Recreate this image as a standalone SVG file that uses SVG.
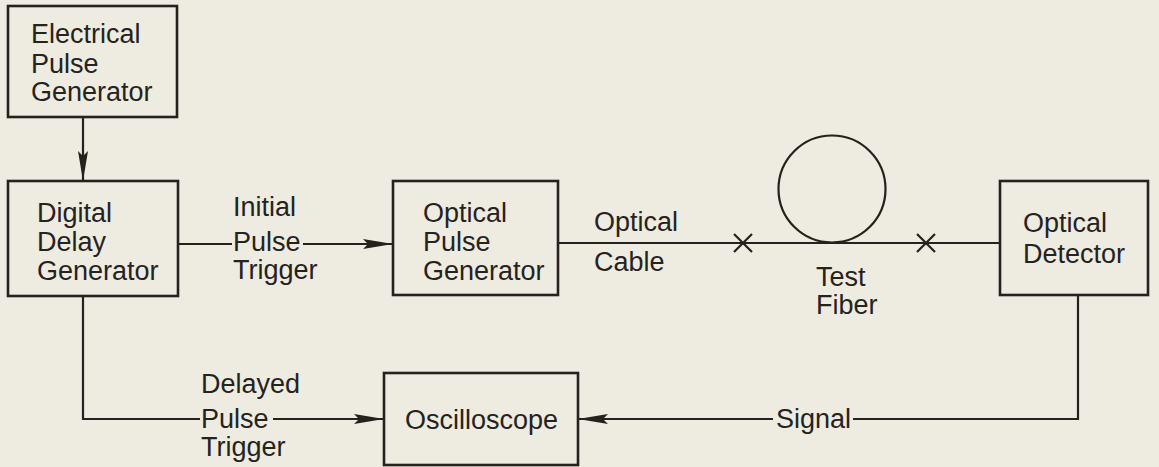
<svg xmlns="http://www.w3.org/2000/svg" width="1159" height="467" viewBox="0 0 1159 467">
<style>
.bg{fill:#eeebe0}
.box{fill:none;stroke:#24211e;stroke-width:2.6}
.ln{fill:none;stroke:#24211e;stroke-width:2.2}
.t{font-family:"Liberation Sans",Arial,sans-serif;font-size:27px;fill:#26231f}
</style>
<defs>
<marker id="arr" markerUnits="userSpaceOnUse" markerWidth="32" markerHeight="12" refX="30" refY="6" orient="auto">
<path d="M0,1 L30,6 L0,11 L5,6 Z" fill="#24211e"/>
</marker>
</defs>
<rect class="bg" x="0" y="0" width="1159" height="467"/>

<g id="connectors">
<line class="ln" x1="83" y1="117" x2="83" y2="181" marker-end="url(#arr)"/>
<line class="ln" x1="178" y1="244" x2="232" y2="244"/>
<line class="ln" x1="303" y1="244" x2="393" y2="244" marker-end="url(#arr)"/>
<line class="ln" x1="558" y1="243" x2="1000" y2="243"/>
<polyline class="ln" points="83,296 83,419 200,419"/>
<line class="ln" x1="273" y1="419" x2="384" y2="419" marker-end="url(#arr)"/>
<polyline class="ln" points="1078,295 1078,419 853,419"/>
<line class="ln" x1="773" y1="419" x2="578" y2="419" marker-end="url(#arr)"/>
</g>

<g id="labels">
<text class="t" x="233" y="216">Initial</text>
<text class="t" x="233" y="251">Pulse</text>
<text class="t" x="233" y="279">Trigger</text>
<text class="t" x="594" y="231">Optical</text>
<text class="t" x="594" y="271">Cable</text>
<text class="t" x="201" y="393">Delayed</text>
<text class="t" x="201" y="428">Pulse</text>
<text class="t" x="201" y="456">Trigger</text>
<text class="t" x="776" y="428">Signal</text>
</g>

<g id="n-electrical-pulse-generator">
<rect class="box" x="8" y="6" width="169" height="111"/>
<text class="t" x="31" y="43">Electrical</text>
<text class="t" x="31" y="73">Pulse</text>
<text class="t" x="31" y="101">Generator</text>
</g>

<g id="n-digital-delay-generator">
<rect class="box" x="8" y="181" width="170" height="115"/>
<text class="t" x="37" y="222">Digital</text>
<text class="t" x="37" y="251">Delay</text>
<text class="t" x="37" y="280">Generator</text>
</g>

<g id="n-optical-pulse-generator">
<rect class="box" x="393" y="181" width="165" height="114"/>
<text class="t" x="423" y="222">Optical</text>
<text class="t" x="423" y="251">Pulse</text>
<text class="t" x="423" y="280">Generator</text>
</g>

<g id="n-test-fiber">
<circle class="ln" cx="832" cy="189" r="53.5"/>
<path class="ln" d="M734,234 L752,252 M734,252 L752,234"/>
<path class="ln" d="M917,234 L935,252 M917,252 L935,234"/>
<text class="t" x="816" y="286">Test</text>
<text class="t" x="816" y="314">Fiber</text>
</g>

<g id="n-optical-detector">
<rect class="box" x="1000" y="181" width="148" height="114"/>
<text class="t" x="1023" y="232">Optical</text>
<text class="t" x="1023" y="263">Detector</text>
</g>

<g id="n-oscilloscope">
<rect class="box" x="384" y="373" width="194" height="92"/>
<text class="t" x="405" y="429">Oscilloscope</text>
</g>
</svg>
